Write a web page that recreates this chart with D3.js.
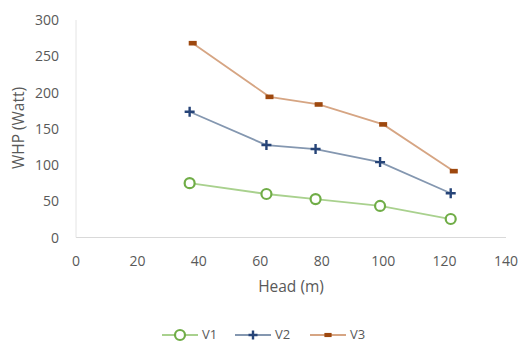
<!DOCTYPE html>
<html><head><meta charset="utf-8">
<script src="https://cdn.jsdelivr.net/npm/d3@7"></script>
<style>body{margin:0;background:#fff}svg{display:block}text{font-family:"Open Sans","Liberation Sans",Arial,sans-serif;fill:#595959}</style>
</head><body>
<script>
const headV12 = [37, 62, 78, 99, 122];
const headV3 = [38, 63, 79, 100, 123];
const v1 = [75, 60, 53, 43.5, 25.5];
const v2 = [173.5, 127.5, 122, 104, 61];
const v3 = [268, 194, 183.5, 156, 91.5];
const xTicks = [0, 20, 40, 60, 80, 100, 120, 140];
const yTicks = [0, 50, 100, 150, 200, 250, 300];
const seriesNames = ["V1", "V2", "V3"];

const W = 520, H = 343;
const svg = d3.select("body").append("svg").attr("width", W).attr("height", H);
const x = d3.scaleLinear().domain([0, 140]).range([76, 506]);
const y = d3.scaleLinear().domain([0, 300]).range([237.5, 20]);

// axes
svg.append("line").attr("x1", x(0)).attr("x2", x(140)).attr("y1", y(0)).attr("y2", y(0)).attr("stroke", "#d9d9d9").attr("stroke-width", 1.2);
svg.append("line").attr("x1", x(0)).attr("x2", x(0)).attr("y1", y(0)).attr("y2", y(300)).attr("stroke", "#e4e4e4").attr("stroke-width", 1);

svg.selectAll(".xt").data(xTicks).enter().append("text")
  .attr("x", d => x(d)).attr("y", 266).attr("text-anchor", "middle").attr("font-size", 14).text(d => d);
svg.selectAll(".yt").data(yTicks).enter().append("text")
  .attr("x", 59).attr("y", d => y(d) + 5).attr("text-anchor", "end").attr("font-size", 14).text(d => d);

svg.append("text").attr("x", 291).attr("y", 292).attr("text-anchor", "middle").attr("font-size", 15.5).text("Head (m)");
svg.append("text").attr("transform", "translate(24,128) rotate(-90)").attr("text-anchor", "middle").attr("font-size", 15.5).text("WHP (Watt)");

const series = [
  {name: seriesNames[0], xs: headV12, ys: v1, line: "#a9d18e", mark: "#70ad47", type: "circle"},
  {name: seriesNames[1], xs: headV12, ys: v2, line: "#8497b0", mark: "#264478", type: "plus"},
  {name: seriesNames[2], xs: headV3, ys: v3, line: "#d6a583", mark: "#9e480e", type: "rect"}
];

function marker(g, s, cx, cy, scale) {
  scale = scale || 1;
  if (s.type === "circle") {
    g.append("circle").attr("cx", cx).attr("cy", cy).attr("r", 5 * scale).attr("fill", "#fff").attr("stroke", s.mark).attr("stroke-width", 2.2);
  } else if (s.type === "plus") {
    const k = 5 * scale;
    g.append("path").attr("d", `M${cx - k},${cy}H${cx + k}M${cx},${cy - k}V${cy + k}`).attr("stroke", s.mark).attr("stroke-width", 2.4).attr("fill", "none");
  } else {
    g.append("rect").attr("x", cx - 4 * scale).attr("y", cy - 2.3 * scale).attr("width", 8 * scale).attr("height", 4.6 * scale).attr("fill", s.mark);
  }
}

const lineGen = d3.line().x(d => x(d[0])).y(d => y(d[1]));
series.forEach(s => {
  const pts = s.xs.map((v, i) => [v, s.ys[i]]);
  svg.append("path").datum(pts).attr("d", lineGen).attr("fill", "none").attr("stroke", s.line).attr("stroke-width", 1.8);
  const g = svg.append("g");
  pts.forEach(p => marker(g, s, x(p[0]), y(p[1])));
});

// legend
const legX = [162, 235, 310];
series.forEach((s, i) => {
  const g = svg.append("g");
  const lx = legX[i], ly = 335;
  g.append("line").attr("x1", lx).attr("x2", lx + 36).attr("y1", ly).attr("y2", ly).attr("stroke", s.line).attr("stroke-width", 1.8);
  marker(g, s, lx + 18, ly, s.type === "circle" ? 1 : 0.9);
  g.append("text").attr("x", lx + 40).attr("y", 339).attr("font-size", 13).text(s.name);
});
</script>
</body></html>
